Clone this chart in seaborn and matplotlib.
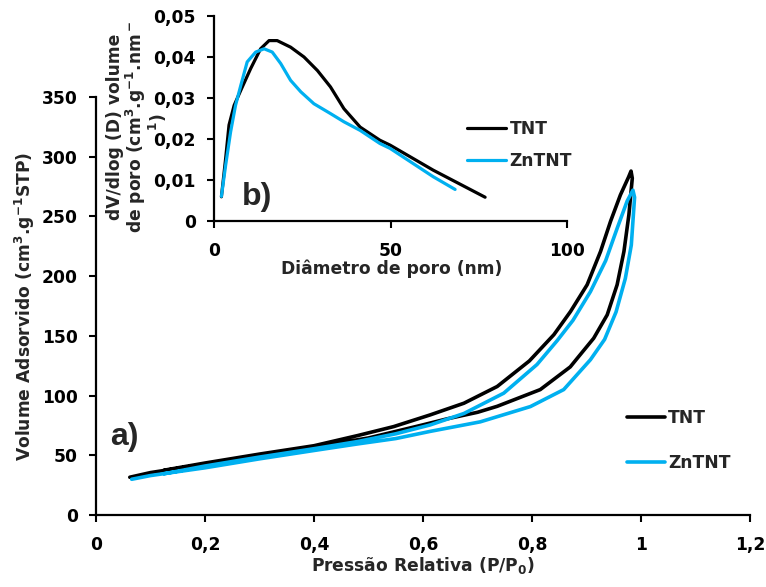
import numpy as np
import pandas as pd
import matplotlib
matplotlib.use("Agg")
import matplotlib.pyplot as plt
import seaborn as sns

# ---------------- data ----------------
# Isotherm (main panel a): adsorption branch then desorption branch (closed loop)
tnt_p = [0.062, 0.10, 0.20, 0.30, 0.40, 0.50, 0.60, 0.644, 0.70, 0.736, 0.815, 0.870, 0.883,
         0.913, 0.9378, 0.956, 0.9685, 0.9776, 0.9838, 0.9815,
         0.977, 0.962, 0.944, 0.9256, 0.901, 0.8705, 0.84, 0.795, 0.736, 0.675, 0.613, 0.546,
         0.48, 0.40, 0.30, 0.20, 0.125]
tnt_v = [31.6, 35.5, 42.5, 50.0, 57.0, 64.5, 75.5, 80.5, 86.0, 91.0, 105.0, 124.0, 131.3,
         148.0, 167.6, 192.8, 220.7, 251.5, 282.0, 288.0,
         283.0, 268.0, 246.0, 220.7, 192.8, 170.4, 151.0, 129.0, 107.6, 93.6, 83.8, 74.0,
         66.5, 58.0, 51.0, 43.5, 37.5]

zn_p = [0.0655, 0.10, 0.20, 0.30, 0.40, 0.48, 0.55, 0.613, 0.705, 0.797, 0.858, 0.907, 0.933,
        0.954, 0.971, 0.982, 0.988, 0.985,
        0.9745, 0.956, 0.935, 0.907, 0.875, 0.846, 0.809, 0.748, 0.675, 0.613, 0.55, 0.48,
        0.40, 0.30, 0.20, 0.125]
zn_v = [29.9, 33.0, 39.5, 47.0, 54.0, 59.5, 64.0, 70.0, 78.0, 90.8, 105.0, 130.0, 147.0,
        170.0, 198.0, 226.0, 266.0, 272.0,
        263.0, 240.0, 213.0, 187.0, 163.0, 146.0, 126.0, 102.0, 85.0, 75.4, 68.0, 61.5,
        55.5, 48.5, 41.0, 34.5]

# Pore size distribution (inset b)
tnt_d = [2.1, 3.3, 4.25, 5.7, 7.6, 10.4, 13.2, 15.6, 17.9, 21.7, 25.5, 29.3, 33.0, 36.8,
         41.4, 47.0, 49.9, 62.1, 76.8]
tnt_dv = [0.0059, 0.0153, 0.0234, 0.0282, 0.0319, 0.0372, 0.0420, 0.0440, 0.0440, 0.0424,
          0.0400, 0.0367, 0.0327, 0.0274, 0.0229, 0.0197, 0.0185, 0.0124, 0.0058]
zn_d = [2.1, 3.3, 4.7, 6.1, 7.6, 9.4, 11.8, 14.2, 16.5, 18.9, 21.7, 24.6, 28.3, 33.0, 36.8,
        41.4, 47.0, 49.9, 62.1, 68.3]
zn_dv = [0.0060, 0.0136, 0.0217, 0.0282, 0.0331, 0.0388, 0.0412, 0.0420, 0.0412, 0.0384,
         0.0343, 0.0315, 0.0286, 0.0262, 0.0242, 0.0221, 0.0189, 0.0177, 0.0108, 0.0077]

labels = ["TNT", "ZnTNT"]
colors = ["#000000", "#00B0F0"]

main_xticks = [0, 0.2, 0.4, 0.6, 0.8, 1.0, 1.2]
main_xticklabels = ["0", "0,2", "0,4", "0,6", "0,8", "1", "1,2"]
main_yticks = [0, 50, 100, 150, 200, 250, 300, 350]
ins_xticks = [0, 50, 100]
ins_yticks = [0, 0.01, 0.02, 0.03, 0.04, 0.05]
ins_yticklabels = ["0", "0,01", "0,02", "0,03", "0,04", "0,05"]
ins_ylabel_lines = ["dV/dlog (D) volume", "de poro (cm$^3$.g$^{-1}$.nm$^-$", "$^1$)"]

# ---------------- style ----------------
sns.set_theme(style="ticks")
plt.rcParams["font.family"] = ["DejaVu Sans"]
plt.rcParams["font.weight"] = "bold"
plt.rcParams["axes.labelweight"] = "bold"
plt.rcParams["mathtext.fontset"] = "custom"
plt.rcParams["mathtext.rm"] = "DejaVu Sans:bold"
plt.rcParams["mathtext.it"] = "DejaVu Sans:bold:italic"
plt.rcParams["mathtext.bf"] = "DejaVu Sans:bold"
plt.rcParams["mathtext.default"] = "rm"

FS = 12.3
fig = plt.figure(figsize=(7.66, 5.87), dpi=100)

def style_axes(ax, pad_x, pad_y):
    for s in ["top", "right"]:
        ax.spines[s].set_visible(False)
    for s in ["left", "bottom"]:
        ax.spines[s].set_linewidth(1.6)
        ax.spines[s].set_color("black")
    ax.tick_params(axis="both", direction="out", length=5, width=1.5, colors="black",
                   labelsize=FS)
    ax.tick_params(axis="x", pad=pad_x)
    ax.tick_params(axis="y", pad=pad_y)
    for t in ax.get_xticklabels() + ax.get_yticklabels():
        t.set_fontweight("bold")

# ---------------- main axes ----------------
ax = fig.add_axes([0.1253, 0.1227, 0.854, 0.712])
df_main = pd.DataFrame({
    "p": tnt_p + zn_p,
    "v": tnt_v + zn_v,
    "s": [labels[0]] * len(tnt_p) + [labels[1]] * len(zn_p),
})
for lab, col in zip(labels, colors):
    sub = df_main[df_main["s"] == lab]
    sns.lineplot(data=sub, x="p", y="v", sort=False, estimator=None, color=col,
                 linewidth=2.6, label=lab, ax=ax)
ax.set_xlim(0, 1.2)
ax.set_ylim(0, 350)
ax.set_xticks(main_xticks)
ax.set_xticklabels(main_xticklabels)
ax.set_yticks(main_yticks)
ax.set_xlabel("Pressão Relativa (P/P$_0$)", fontsize=FS, fontweight="bold")
ax.set_ylabel("Volume Adsorvido (cm$^3$.g$^{-1}$STP)", fontsize=FS, fontweight="bold")
ax.xaxis.set_label_coords(423 / 766, 1 - 555 / 587, transform=fig.transFigure)
ax.yaxis.set_label_coords(37 / 766, 1 - 306 / 587, transform=fig.transFigure)
style_axes(ax, 10, 8)
ax.legend(loc="center left", bbox_to_anchor=(627 / 766, 1 - 440.5 / 587),
          bbox_transform=fig.transFigure, frameon=False,
          handlelength=2.2, handletextpad=0.2, labelspacing=1.55, borderpad=0,
          borderaxespad=0, prop={"weight": "bold", "size": FS})
fig.text(110 / 766, 1 - 437 / 587, "a)", fontsize=23, fontweight="bold",
         family="Liberation Sans", ha="left", va="center")

# ---------------- inset ----------------
axi = fig.add_axes([214 / 766, 1 - 221 / 587, 353 / 766, 205 / 587])
axi.patch.set_alpha(0)
df_ins = pd.DataFrame({
    "d": tnt_d + zn_d,
    "dv": tnt_dv + zn_dv,
    "s": [labels[0]] * len(tnt_d) + [labels[1]] * len(zn_d),
})
for lab, col in zip(labels, colors):
    sub = df_ins[df_ins["s"] == lab]
    sns.lineplot(data=sub, x="d", y="dv", sort=False, estimator=None, color=col,
                 linewidth=2.3, label=lab, ax=axi)
axi.set_xlim(0, 100)
axi.set_ylim(0, 0.05)
axi.set_xticks(ins_xticks)
axi.set_yticks(ins_yticks)
axi.set_yticklabels(ins_yticklabels)
axi.set_xlabel("Diâmetro de poro (nm)", fontsize=FS, fontweight="bold")
axi.xaxis.set_label_coords(392 / 766, 1 - 260 / 587, transform=fig.transFigure)
axi.set_ylabel("")
style_axes(axi, 10, 8)
axi.legend(loc="center left", bbox_to_anchor=(467 / 766, 1 - 145 / 587),
           bbox_transform=fig.transFigure, frameon=False,
           handlelength=2.3, handletextpad=0.2, labelspacing=0.85, borderpad=0,
           borderaxespad=0, prop={"weight": "bold", "size": FS})
# wrapped inset y label (three lines, centred, as in the original)
for line, xc, yc in zip(ins_ylabel_lines, [115, 136, 158], [127, 127, 122]):
    fig.text(xc / 766, 1 - yc / 587, line, rotation=90, ha="center", va="center",
             fontsize=FS, fontweight="bold")
fig.text(242 / 766, 1 - 197 / 587, "b)", fontsize=23, fontweight="bold",
         family="Liberation Sans", ha="left", va="center")

fig.savefig("out.png", dpi=100)
